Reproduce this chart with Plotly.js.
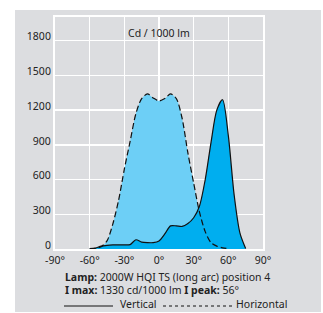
<!DOCTYPE html>
<html><head><meta charset="utf-8">
<script src="https://cdn.plot.ly/plotly-3.0.1.min.js"></script>
<style>
html,body{margin:0;padding:0;background:#ffffff;width:323px;height:313px;overflow:hidden;}
#chart{position:absolute;left:15px;top:10px;width:306px;height:302px;}
</style></head>
<body><div id="chart"></div>
<script>
// Horizontal (dashed) curve
const horizAngles = [-60,-55,-50,-45,-40,-35,-30,-25,-20,-15,-10,-5,0,5,10,15,20,25,30,35,40,45,50,55,60];
const horizValues = [0,5,20,70,215,420,690,930,1170,1300,1340,1305,1280,1300,1340,1300,1130,830,570,320,150,55,25,10,3];
// Vertical (solid) curve
const vertAngles = [-60,-55,-50,-45,-40,-35,-30,-25,-20,-15,-10,-5,0,5,10,15,20,25,30,35,40,45,50,55,60,65,70,75];
const vertValues = [3,8,25,32,35,35,35,38,80,60,55,55,70,130,200,200,195,220,270,370,600,920,1200,1290,980,470,140,5];
const xTickVals = [-90,-60,-30,0,30,60,90];
const xTickText = ['-90°','-60°','-30°','0°','30°','60°','90°'];
const yTickVals = [0,300,600,900,1200,1500,1800];

const lightBlue = '#6dcff6', darkBlue = '#00aeef', bg = '#dcdde0';
const traces = [
  {x: horizAngles, y: horizValues, type:'scatter', mode:'lines', fill:'tozeroy', fillcolor: lightBlue,
   line:{width:0, shape:'spline', smoothing:0.8}, hoverinfo:'skip'},
  {x: vertAngles, y: vertValues, type:'scatter', mode:'lines', fill:'tozeroy', fillcolor: darkBlue,
   line:{width:0, shape:'spline', smoothing:0.8}, hoverinfo:'skip'},
  {x: horizAngles, y: horizValues, type:'scatter', mode:'lines',
   line:{width:1.2, color:'#111', dash:'6px,3px', shape:'spline', smoothing:0.8}},
  {x: vertAngles, y: vertValues, type:'scatter', mode:'lines',
   line:{width:1.2, color:'#111', shape:'spline', smoothing:0.8}}
];
const fnt = {family:'Noto Sans, sans-serif', size:10.5, color:'#222'};
const py = Y => (249 - Y) / 232;
const px = X => (X - 55) / 208;
const layout = {
  width:306, height:302,
  margin:{l:40, r:58, t:7, b:63},
  paper_bgcolor: bg, plot_bgcolor: bg,
  showlegend:false,
  font: fnt,
  xaxis:{range:[-90,90], tickvals:xTickVals, ticktext:xTickText, showgrid:true, gridcolor:'#ffffff', gridwidth:1.5,
         zeroline:false, showline:true, linecolor:'#ffffff', linewidth:2, mirror:true, ticks:'', tickfont:fnt, fixedrange:true},
  yaxis:{range:[0,2005], tickvals:yTickVals, showgrid:true, gridcolor:'#ffffff', gridwidth:1.5, ticklabelshift:-4,
         zeroline:false, showline:true, linecolor:'#ffffff', linewidth:2, mirror:true, ticks:'', tickfont:fnt, fixedrange:true},
  annotations:[
    {text:'Cd / 1000 lm', x:0, y:1867, xref:'x', yref:'y', showarrow:false, font:fnt},
    {text:'<b>Lamp:</b> 2000W HQI TS (long arc) position 4', x:px(63), y:py(277), xref:'paper', yref:'paper', xanchor:'left', yanchor:'middle', showarrow:false, font:fnt},
    {text:'<b>I max:</b> 1330 cd/1000 lm <b>I peak:</b> 56°', x:px(63), y:py(290), xref:'paper', yref:'paper', xanchor:'left', yanchor:'middle', showarrow:false, font:fnt},
    {text:'Vertical', x:px(118), y:py(303.5), xref:'paper', yref:'paper', xanchor:'left', yanchor:'middle', showarrow:false, font:fnt},
    {text:'Horizontal', x:px(234), y:py(303.5), xref:'paper', yref:'paper', xanchor:'left', yanchor:'middle', showarrow:false, font:fnt}
  ],
  shapes:[
    {type:'line', xref:'paper', yref:'paper', x0:px(64), x1:px(113), y0:py(306), y1:py(306), line:{color:'#111', width:1}},
    {type:'line', xref:'paper', yref:'paper', x0:px(163), x1:px(232), y0:py(306), y1:py(306), line:{color:'#111', width:1, dash:'dot'}}
  ]
};
Plotly.newPlot('chart', traces, layout, {displayModeBar:false, staticPlot:true});
</script></body></html>
